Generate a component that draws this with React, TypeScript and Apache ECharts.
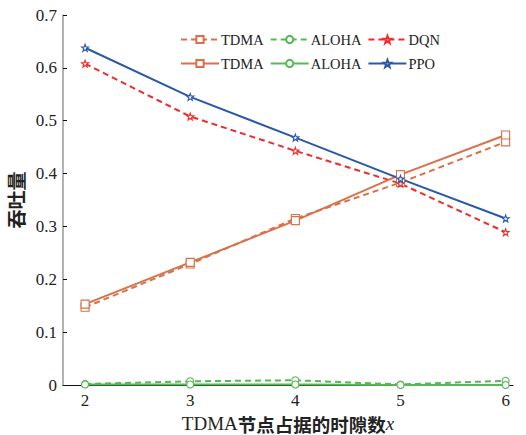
import React, { useEffect, useRef } from "react";
import * as echarts from "echarts";

const xValues = [2, 3, 4, 5, 6];
const yTicks = [0, 0.1, 0.2, 0.3, 0.4, 0.5, 0.6, 0.7];
const tdmaDashed = [0.147, 0.229, 0.315, 0.383, 0.46];
const alohaDashed = [0.002, 0.007, 0.009, 0.001, 0.008];
const dqnDashed = [0.608, 0.508, 0.443, 0.381, 0.289];
const tdmaSolid = [0.153, 0.232, 0.311, 0.398, 0.473];
const alohaSolid = [0.001, 0.001, 0.001, 0.0, 0.0];
const ppoSolid = [0.638, 0.545, 0.468, 0.39, 0.315];

const ORANGE = "#D9714A";
const GREEN = "#55B955";
const RED = "#EE2C2C";
const BLUE = "#2A58A8";
const STAR =
  "path://M0,-10L2.35,-3.24L9.51,-3.09L3.8,1.24L5.88,8.09L0,4L-5.88,8.09L-3.8,1.24L-9.51,-3.09L-2.35,-3.24Z";

const SERIF = "Liberation Serif";
const CJK = "Noto Sans CJK SC";

function mk(name: string, vals: number[], color: string, dashed: boolean, symbol: string, size: number, id: string) {
  return {
    id,
    name,
    type: "line",
    data: xValues.map((x, i) => [x, vals[i]]),
    symbol,
    symbolSize: size,
    showSymbol: true,
    lineStyle: { color, width: 2, type: dashed ? [6, 4] : "solid" },
    itemStyle: { color: "#fff", borderColor: color, borderWidth: 1.1 },
    emphasis: { disabled: true },
  };
}

export default function App() {
  const ref = useRef<HTMLDivElement>(null);
  useEffect(() => {
    if (!ref.current) return;
    const chart = echarts.init(ref.current, null, { renderer: "svg" });
    const series = [
      mk("TDMA ", tdmaDashed, ORANGE, true, "rect", 8, "s1"),
      mk("ALOHA ", alohaDashed, GREEN, true, "circle", 7, "s2"),
      mk("DQN", dqnDashed, RED, true, STAR, 7, "s3"),
      mk("TDMA", tdmaSolid, ORANGE, false, "rect", 8, "s4"),
      mk("ALOHA", alohaSolid, GREEN, false, "circle", 7, "s5"),
      mk("PPO", ppoSolid, BLUE, false, STAR, 7, "s6"),
    ];
    const legendCommon = {
      itemWidth: 38,
      itemHeight: 9,
      itemGap: 6,
      formatter: (n: string) => "{t|" + n.trim() + "}",
      textStyle: {
        rich: { t: { fontFamily: SERIF, fontSize: 14.5, color: "#222", padding: [0, 0, 0, -3] } },
      },
      selectedMode: false,
    };
    const numRich = { n: { fontFamily: SERIF, fontSize: 17, color: "#222" } };
    chart.setOption({
      animation: false,
      backgroundColor: "#fff",
      grid: { left: 63, right: 13, top: 15, bottom: 50, containLabel: false, outerBoundsMode: "none" },
      legend: [
        { ...legendCommon, left: 175, top: 27, data: ["TDMA ", "ALOHA ", "DQN"] },
        { ...legendCommon, left: 175, top: 51, data: ["TDMA", "ALOHA", "PPO"] },
      ],
      xAxis: {
        type: "value",
        min: 1.79,
        max: 6.07,
        splitLine: { show: false },
        axisLine: { show: true, lineStyle: { color: "#111", width: 1 } },
        axisTick: { show: true, inside: true, length: 4, customValues: xValues, lineStyle: { color: "#111" } },
        axisLabel: {
          customValues: xValues,
          margin: 7,
          formatter: (v: number) => "{n|" + v + "}",
          rich: numRich,
        },
        name: "{a|TDMA}{c|节点占据的时隙数}{b|x}",
        nameLocation: "middle",
        nameGap: 14,
        nameTextStyle: {
          lineHeight: 20,
          rich: {
            a: { fontFamily: SERIF, fontSize: 19, lineHeight: 20, color: "#222" },
            c: { fontFamily: CJK, fontSize: 18.5, lineHeight: 20, fontWeight: "bold", color: "#222" },
            b: { fontFamily: SERIF, fontSize: 19, lineHeight: 20, fontStyle: "italic", color: "#222" },
          },
        },
      },
      yAxis: {
        type: "value",
        min: 0,
        max: 0.7,
        interval: 0.1,
        splitLine: { show: false },
        axisLine: { show: true, lineStyle: { color: "#999", width: 1.5 } },
        axisTick: { show: true, inside: true, length: 4, lineStyle: { color: "#111" } },
        axisLabel: {
          margin: 6,
          formatter: (v: number) =>
            yTicks.some((t) => Math.abs(t - v) < 1e-9) ? "{n|" + String(+v.toFixed(1)) + "}" : "",
          rich: numRich,
        },
        name: "吞吐量",
        nameLocation: "middle",
        nameRotate: 90,
        nameGap: 36,
        nameTextStyle: { fontFamily: CJK, fontSize: 19, fontWeight: "bold", color: "#222" },
      },
      series,
    });
    return () => chart.dispose();
  }, []);
  return <div ref={ref} style={{ width: 526, height: 435, position: "absolute", left: 0, top: 0 }} />;
}
